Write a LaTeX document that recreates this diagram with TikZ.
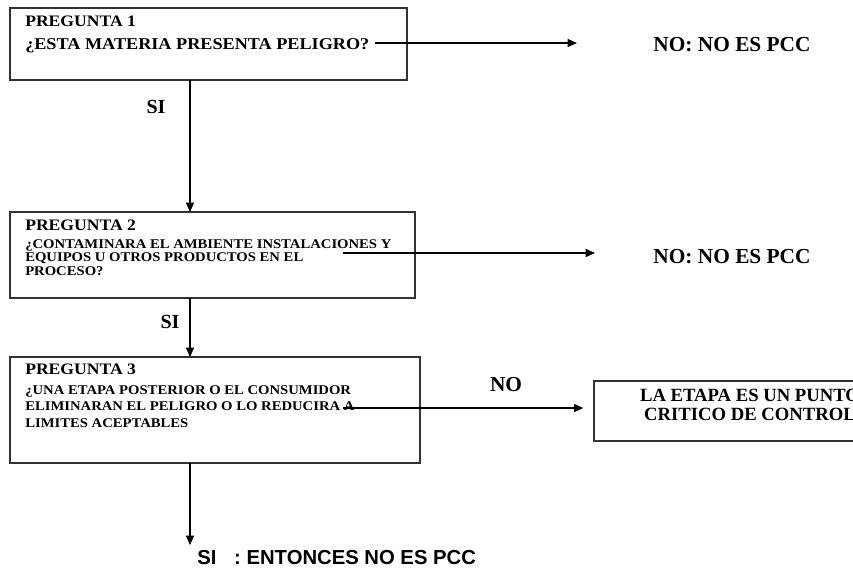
\documentclass[tikz,border=0pt]{standalone}
\usepackage{fontspec}
\setmainfont{Liberation Serif}
\newfontfamily\widefont[FakeStretch=1.1]{Liberation Serif}
\newfontfamily\arialfont{Liberation Sans}
\usetikzlibrary{arrows.meta}
\tikzstyle{box}=[draw=black!80,line width=1.3pt,inner sep=0pt,outer sep=0pt]
\tikzstyle{flow}=[line width=1pt,-{Triangle[length=7pt,width=6pt]}]
\tikzstyle{txt}=[inner sep=0pt,anchor=north west,align=left]
\tikzstyle{lbl}=[inner sep=0pt,font=\bfseries\fontsize{16}{18}\selectfont]
\newcommand{\qtitle}{\widefont\bfseries\fontsize{12}{13}\selectfont}
\newcommand{\qbody}[2]{\widefont\bfseries\fontsize{#1}{#2}\selectfont}

\begin{document}
\begin{tikzpicture}[x=0.75pt,y=-0.75pt]
	\useasboundingbox (0,0) rectangle (853,569);
	\coordinate (c) at (190,0); % x of the SI arrows
	% preguntas
	\node[box,minimum width=297.75pt,minimum height=54pt] (p1) at (208.5,44) {};
	\node[box,minimum width=303.75pt,minimum height=64.5pt] (p2) at (212.5,255) {};
	\node[box,minimum width=307.5pt,minimum height=79.5pt] (p3) at (215,410) {};
	\node[txt,font=\qtitle] (t1) at (25,16) {PREGUNTA 1};
	\node[txt,font={\qbody{12.4}{13}}] (q1) at (25,38) {¿ESTA MATERIA PRESENTA PELIGRO?};
	\node[txt,font=\qtitle] (t2) at (25,220) {PREGUNTA 2};
	\node[txt,font={\qbody{10}{10.3}}] (q2) at (25,239) {¿CONTAMINARA EL AMBIENTE INSTALACIONES Y\\EQUIPOS U OTROS PRODUCTOS EN EL\\PROCESO?};
	\node[txt,font=\qtitle] (t3) at (25,364) {PREGUNTA 3};
	\node[txt,font={\qbody{10}{12.4}}] (q3) at (25,385) {¿UNA ETAPA POSTERIOR O EL CONSUMIDOR\\ELIMINARAN EL PELIGRO O LO REDUCIRA A\\LIMITES ACEPTABLES};
	% respuestas
	\node[lbl] (no1) at (732,45) {NO: NO ES PCC};
	\node[lbl] (no2) at (732,257) {NO: NO ES PCC};
	\node[lbl] (no3) at (506,385) {NO};
	\node[lbl,font=\bfseries\fontsize{15}{17}\selectfont] (si1) at (156,107) {SI};
	\node[lbl,font=\bfseries\fontsize{15}{17}\selectfont] (si2) at (170,322) {SI};
	\node[box,minimum width=234pt,minimum height=45pt] (pcc) at (750,411) {};
	\node[inner sep=0pt,align=center,font=\bfseries\fontsize{14}{14.3}\selectfont] (pcctext) at (750,405) {LA ETAPA ES UN PUNTO\\CRITICO DE CONTROL};
	\node[inner sep=0pt,anchor=west,font=\arialfont\bfseries\fontsize{15.2}{17}\selectfont] (fin) at (197,558) {SI\hspace{0.6em} : ENTONCES NO ES PCC};
	% flechas
	\coordinate (a1) at (375,43);
	\coordinate (b1) at (577,43);
	\coordinate (a2) at (343,253);
	\coordinate (b2) at (595,253);
	\coordinate (a3) at (343,408);
	\coordinate (e3) at (190,545);
	\draw[flow] (a1) -- (b1);
	\draw[flow] (a2) -- (b2);
	\draw[flow,shorten >=8pt] (a3) -- (pcc.west |- a3);
	\draw[flow] (p1.south -| c) -- (p2.north -| c);
	\draw[flow] (p2.south -| c) -- (p3.north -| c);
	\draw[flow] (p3.south -| c) -- (e3);
\end{tikzpicture}
\end{document}
